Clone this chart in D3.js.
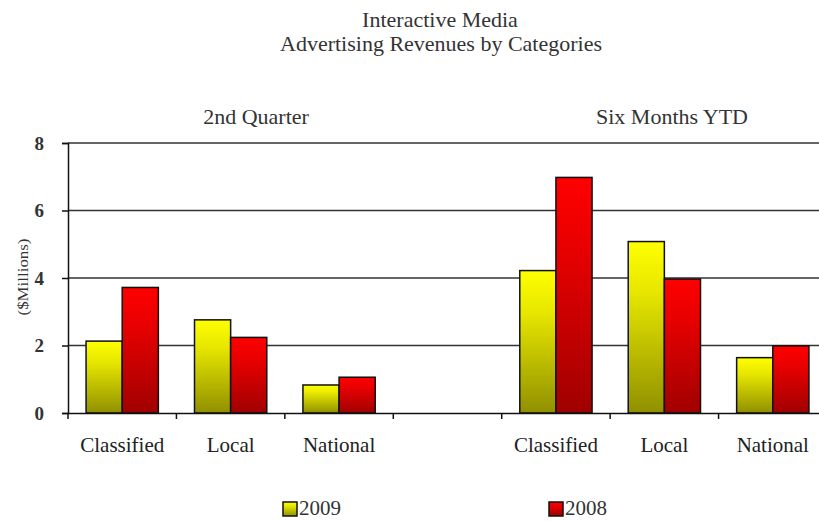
<!DOCTYPE html>
<html>
<head>
<meta charset="utf-8">
<script src="https://cdn.jsdelivr.net/npm/d3@7"></script>
<style>
  body { margin: 0; background: #fff; }
  svg { display: block; font-family: "Liberation Serif", "Times New Roman", serif; }
</style>
</head>
<body>
<svg id="chart" width="819" height="521"></svg>
<script>
const slots = ['q-Classified', 'q-Local', 'q-National', 'gap', 'y-Classified', 'y-Local', 'y-National'];
const slotLabels = ['Classified', 'Local', 'National', '', 'Classified', 'Local', 'National'];
const series = ['2009', '2008'];
const values2009 = [2.13, 2.76, 0.83, null, 4.22, 5.08, 1.64];
const values2008 = [3.72, 2.24, 1.06, null, 6.98, 3.97, 1.99];
const yTicks = [0, 2, 4, 6, 8];
const panelTitles = ['2nd Quarter', 'Six Months YTD'];

const serif = '"Liberation Serif", "Times New Roman", serif';
const svg = d3.select('#chart');
const margin = { top: 143, left: 68, bottom: 108 };
const height = 521;

const x = d3.scaleBand().domain(slots).range([margin.left, 827]);
const xInner = d3.scaleBand().domain(series).range([0, x.bandwidth()]).paddingOuter(0.5).paddingInner(0);
const y = d3.scaleLinear().domain([0, 8]).range([height - margin.bottom, margin.top]);

// gradients
const defs = svg.append('defs');
const grads = [
  { id: 'g2009', top: '#ffff00', mid: '#e6e600', bot: '#909000' },
  { id: 'g2008', top: '#ff0000', mid: '#e80000', bot: '#a00000' }
];
grads.forEach((g) => {
  const lg = defs.append('linearGradient').attr('id', g.id).attr('x1', 0).attr('y1', 0).attr('x2', 0).attr('y2', 1);
  lg.append('stop').attr('offset', '0%').attr('stop-color', g.top);
  lg.append('stop').attr('offset', '30%').attr('stop-color', g.mid);
  lg.append('stop').attr('offset', '100%').attr('stop-color', g.bot);
});

// gridlines
svg.append('g')
  .selectAll('line')
  .data(yTicks.filter((d) => d > 0))
  .join('line')
  .attr('x1', margin.left)
  .attr('x2', 827)
  .attr('y1', (d) => y(d))
  .attr('y2', (d) => y(d))
  .attr('stroke', '#333')
  .attr('stroke-width', 1.5);

// bars
const rows = [];
slots.forEach((s, i) => {
  if (values2009[i] != null) rows.push({ slot: s, key: '2009', v: values2009[i] });
  if (values2008[i] != null) rows.push({ slot: s, key: '2008', v: values2008[i] });
});
svg.append('g')
  .selectAll('rect')
  .data(rows)
  .join('rect')
  .attr('x', (d) => x(d.slot) + xInner(d.key))
  .attr('width', xInner.bandwidth())
  .attr('y', (d) => y(d.v))
  .attr('height', (d) => y(0) - y(d.v))
  .attr('fill', (d) => `url(#g${d.key})`)
  .attr('stroke', '#111')
  .attr('stroke-width', 1.5);

// y axis
const yAxis = svg.append('g')
  .attr('transform', `translate(${margin.left},0)`)
  .call(d3.axisLeft(y).tickValues(yTicks).tickSize(6).tickPadding(18));
yAxis.attr('font-family', serif);
yAxis.select('.domain').attr('stroke', '#111').attr('stroke-width', 1.5);
yAxis.selectAll('.tick line').attr('stroke', '#111').attr('stroke-width', 1.5);
yAxis.selectAll('text').style('font-size', '19px').style('font-weight', 'bold').attr('fill', '#333');

// x axis
const xAxis = svg.append('g')
  .attr('transform', `translate(0,${y(0)})`)
  .call(d3.axisBottom(x).tickSize(0).tickFormat((d, i) => slotLabels[i]).tickPadding(24));
xAxis.attr('font-family', serif);
xAxis.select('.domain').attr('stroke', '#111').attr('stroke-width', 1.5);
xAxis.selectAll('text').style('font-size', '21px').attr('fill', '#222');
xAxis.selectAll('.tick line').remove();
svg.append('g')
  .selectAll('line')
  .data(slots)
  .join('line')
  .attr('x1', (d) => x(d))
  .attr('x2', (d) => x(d))
  .attr('y1', y(0))
  .attr('y2', y(0) + 6)
  .attr('stroke', '#111')
  .attr('stroke-width', 1.5);

// y label
svg.append('text')
  .attr('transform', `translate(28,277) rotate(-90)`)
  .attr('text-anchor', 'middle')
  .style('font-size', '15px')
  .attr('textLength', 77)
  .attr('lengthAdjust', 'spacingAndGlyphs')
  .attr('fill', '#333')
  .text('($Millions)');

// titles
svg.append('text').attr('x', 440).attr('y', 27).attr('text-anchor', 'middle')
  .style('font-size', '22px').attr('fill', '#333').text('Interactive Media');
svg.append('text').attr('x', 441).attr('y', 51).attr('text-anchor', 'middle')
  .style('font-size', '22px').attr('fill', '#333').text('Advertising Revenues by Categories');

svg.selectAll('.panel')
  .data(panelTitles)
  .join('text')
  .attr('class', 'panel')
  .attr('x', (d, i) => i === 0 ? 256 : 672)
  .attr('y', 124)
  .attr('text-anchor', 'middle')
  .style('font-size', '22px')
  .attr('fill', '#333')
  .text((d) => d);

// legend
const legend = svg.append('g');
const legendX = [283, 549];
series.forEach((s, i) => {
  legend.append('rect')
    .attr('x', legendX[i])
    .attr('y', 502)
    .attr('width', 14)
    .attr('height', 14)
    .attr('fill', `url(#g${s})`)
    .attr('stroke', '#111')
    .attr('stroke-width', 1.5);
  legend.append('text')
    .attr('x', legendX[i] + 16)
    .attr('y', 515)
    .style('font-size', '21px')
    .attr('fill', '#333')
    .text(s);
});
</script>
</body>
</html>
